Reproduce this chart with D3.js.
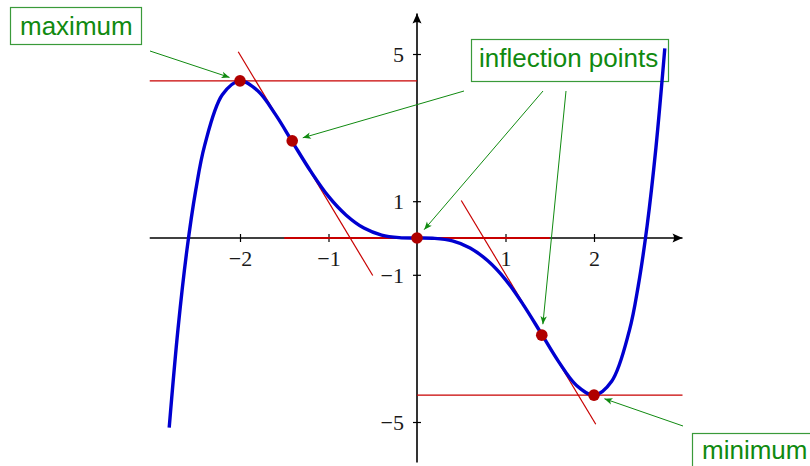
<!DOCTYPE html>
<html>
<head>
<meta charset="utf-8">
<script src="https://cdn.jsdelivr.net/npm/d3@7"></script>
<style>
  body { margin: 0; background: #fff; }
  svg { display: block; }
</style>
</head>
<body>
<svg id="chart" width="810" height="466"></svg>
<script>
// curve samples
const curveX = [-2.8, -2.7, -2.6, -2.5, -2.4, -2.2, -2.0, -1.8, -1.6, -1.4, -1.2, -1.0, -0.8, -0.6, -0.4, -0.2, 0,
  0.2, 0.4, 0.6, 0.8, 1.0, 1.2, 1.4, 1.6, 1.8, 2.0, 2.2, 2.4, 2.5, 2.6, 2.7, 2.8];
const curveY = [-5.15, -2.46, -0.33, 1.30, 2.51, 3.89, 4.27, 4.00, 3.36, 2.58, 1.81, 1.13, 0.62, 0.27, 0.08, 0.01, 0,
  -0.01, -0.08, -0.27, -0.62, -1.13, -1.81, -2.58, -3.36, -4.00, -4.27, -3.89, -2.51, -1.30, 0.33, 2.46, 5.15];

// marked points: maximum, inflection points, minimum
const pointX = [-2, -1.41, 0, 1.41, 2];
const pointY = [4.27, 2.64, 0, -2.64, -4.27];

// tangent segments [x1, y1, x2, y2]
const tangents = [
  [-3.02, 4.27, 0, 4.27],
  [0, -4.27, 3.0, -4.27],
  [-1.5, 0, 1.5, 0],
  [-2.02, 5.06, -0.5, -1.02],
  [0.5, 1.02, 2.02, -5.06]
];

const xTicks = [-2, -1, 1, 2];
const yTicks = [-5, -1, 1, 5];

const labels = ["maximum", "inflection points", "minimum"];

const width = 810, height = 466;
const green = "#108a10";

const svg = d3.select("#chart");

const x = d3.scaleLinear().domain([-3, 3]).range([151.5, 682.5]);
const y = d3.scaleLinear().domain([-6, 6]).range([458.8, 17.2]);

const fmt = d => d < 0 ? "\u2212" + Math.abs(d) : String(d);

// markers
const defs = svg.append("defs");
defs.append("marker")
  .attr("id", "axisHead")
  .attr("viewBox", "-11 -6 12 12")
  .attr("refX", 0).attr("refY", 0)
  .attr("markerWidth", 12).attr("markerHeight", 12)
  .attr("markerUnits", "userSpaceOnUse")
  .attr("orient", "auto")
  .append("path")
  .attr("d", "M0,0 L-10,-4.5 Q-7,0 -10,4.5 Z")
  .attr("fill", "#000");
defs.append("marker")
  .attr("id", "noteHead")
  .attr("viewBox", "-9 -5 10 10")
  .attr("refX", 0).attr("refY", 0)
  .attr("markerWidth", 10).attr("markerHeight", 10)
  .attr("markerUnits", "userSpaceOnUse")
  .attr("orient", "auto")
  .append("path")
  .attr("d", "M0,0 L-8,-3.2 L-6,0 L-8,3.2 Z")
  .attr("fill", green);

// axes
const gx = svg.append("g")
  .attr("transform", `translate(0,${y(0)})`)
  .call(d3.axisBottom(x).tickValues(xTicks).tickFormat(fmt).tickSizeInner(4).tickSizeOuter(0));
gx.select(".domain").remove();
gx.selectAll(".tick line").attr("y1", -4).attr("y2", 4).attr("stroke-width", 1.2);
gx.selectAll(".tick text")
  .attr("y", 28).attr("dy", 0)
  .attr("font-family", "'Liberation Serif', serif")
  .attr("font-size", 22)
  .attr("fill", "#1a1a1a");

const gy = svg.append("g")
  .attr("transform", `translate(${x(0)},0)`)
  .call(d3.axisLeft(y).tickValues(yTicks).tickFormat(fmt).tickSizeInner(4).tickSizeOuter(0));
gy.select(".domain").remove();
gy.selectAll(".tick line").attr("x1", -4).attr("x2", 4).attr("stroke-width", 1.2);
gy.selectAll(".tick text")
  .attr("x", -13).attr("dy", "0.35em")
  .attr("font-family", "'Liberation Serif', serif")
  .attr("font-size", 22)
  .attr("fill", "#1a1a1a");

svg.append("line")
  .attr("x1", x(-3.02)).attr("x2", x(3.0))
  .attr("y1", y(0)).attr("y2", y(0))
  .attr("stroke", "#000").attr("stroke-width", 1.6)
  .attr("marker-end", "url(#axisHead)");
svg.append("line")
  .attr("x1", x(0)).attr("x2", x(0))
  .attr("y1", y(-6.1)).attr("y2", y(6.1))
  .attr("stroke", "#000").attr("stroke-width", 1.6)
  .attr("marker-end", "url(#axisHead)");

// annotation boxes
const boxes = [
  { rx: 10, ry: 7, rw: 131, rh: 37, tx: 20, ty: 35 },
  { rx: 471, ry: 39, rw: 197, rh: 42, tx: 479, ty: 67 },
  { rx: 692, ry: 433, rw: 130, rh: 40, tx: 702, ty: 459 }
];
const note = svg.selectAll(".note")
  .data(labels)
  .enter()
  .append("g")
  .attr("class", "note");
note.append("rect")
  .attr("x", (d, i) => boxes[i].rx + 0.5)
  .attr("y", (d, i) => boxes[i].ry + 0.5)
  .attr("width", (d, i) => boxes[i].rw)
  .attr("height", (d, i) => boxes[i].rh)
  .attr("fill", "#fff")
  .attr("stroke", "#3a9a3a")
  .attr("stroke-width", 1.2);
note.append("text")
  .attr("x", (d, i) => boxes[i].tx)
  .attr("y", (d, i) => boxes[i].ty)
  .attr("font-family", "'Liberation Sans', Arial, sans-serif")
  .attr("font-size", 26)
  .attr("fill", green)
  .text(d => d);

// tangent lines
svg.selectAll(".tangent")
  .data(tangents)
  .enter()
  .append("line")
  .attr("class", "tangent")
  .attr("x1", d => x(d[0])).attr("y1", d => y(d[1]))
  .attr("x2", d => x(d[2])).attr("y2", d => y(d[3]))
  .attr("stroke", "#c80000")
  .attr("stroke-width", d => d[1] === 0 && d[3] === 0 ? 2.2 : 1.2);

// curve
const line = d3.line()
  .x((d, i) => x(curveX[i]))
  .y(d => y(d))
  .curve(d3.curveCatmullRom.alpha(0.5));
svg.append("path")
  .attr("d", line(curveY))
  .attr("fill", "none")
  .attr("stroke", "#0000d0")
  .attr("stroke-width", 3.4);

// points
svg.selectAll(".pt")
  .data(pointX)
  .enter()
  .append("circle")
  .attr("class", "pt")
  .attr("cx", d => x(d))
  .attr("cy", (d, i) => y(pointY[i]))
  .attr("r", 5.8)
  .attr("fill", "#b00000");

// arrows from boxes to points: [start x, start y, point index]
const arrows = [[150, 51, 0], [464, 91, 1], [543, 91, 2], [566, 91, 3], [683, 426, 4]];
svg.selectAll(".arrow")
  .data(arrows)
  .enter()
  .append("line")
  .attr("class", "arrow")
  .each(function (d) {
    const px = x(pointX[d[2]]), py = y(pointY[d[2]]);
    const dx = px - d[0], dy = py - d[1];
    const len = Math.sqrt(dx * dx + dy * dy);
    const k = (len - 11) / len;
    d3.select(this)
      .attr("x1", d[0]).attr("y1", d[1])
      .attr("x2", d[0] + dx * k).attr("y2", d[1] + dy * k);
  })
  .attr("stroke", green)
  .attr("stroke-width", 1)
  .attr("marker-end", "url(#noteHead)");
</script>
</body>
</html>
